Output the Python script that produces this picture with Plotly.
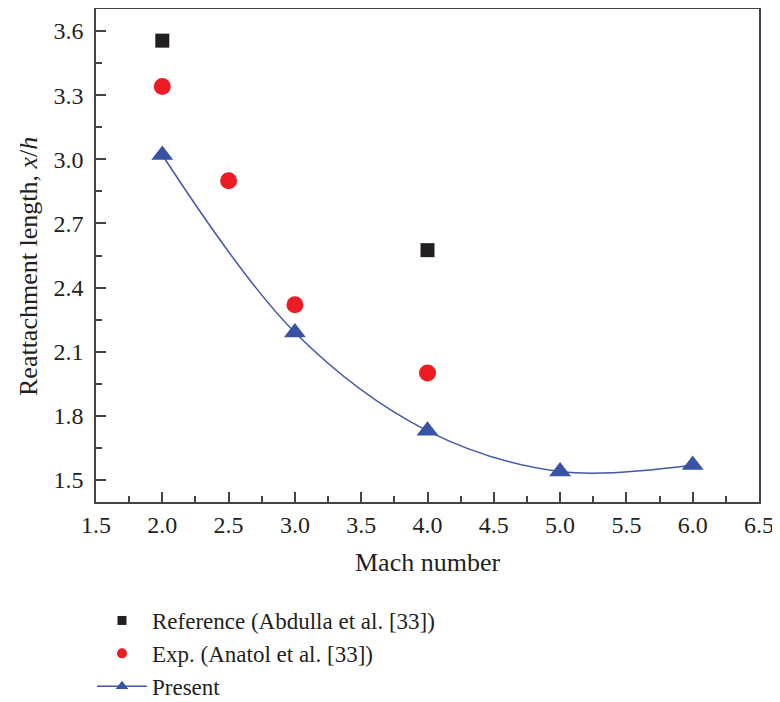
import plotly.graph_objects as go

# Data
ref_mach = [2.0, 4.0]
ref_len = [3.555, 2.575]

exp_mach = [2.0, 2.5, 3.0, 4.0]
exp_len = [3.34, 2.90, 2.32, 2.00]

present_mach = [2.0, 3.0, 4.0, 5.0, 6.0]
present_len = [3.02, 2.19, 1.73, 1.54, 1.57]

x_ticks = [1.5, 2.0, 2.5, 3.0, 3.5, 4.0, 4.5, 5.0, 5.5, 6.0, 6.5]
y_ticks = [1.5, 1.8, 2.1, 2.4, 2.7, 3.0, 3.3, 3.6]

FONT = "Liberation Serif"
AXC = "#444444"
TXT = "#231f20"
C_REF = "#231f20"
C_EXP = "#ed1c24"
C_PRE = "#3953a4"
C_LINE = "#4257a8"

# the page body adds an 8px margin, so the figure is 8px smaller each way
W, H = 772, 694
ML, MR, MT, MB = 88, 21, 1, 200
PW, PH = W - ML - MR, H - MT - MB


def px_to_paper_x(px):
    return (px - ML) / PW


def px_to_paper_y(py):
    return (H - MB - py) / PH


fig = go.Figure()
fig.add_trace(go.Scatter(
    x=ref_mach, y=ref_len, mode="markers", showlegend=False,
    marker=dict(symbol="square", size=14, color=C_REF),
))
fig.add_trace(go.Scatter(
    x=exp_mach, y=exp_len, mode="markers", showlegend=False,
    marker=dict(symbol="circle", size=17, color=C_EXP),
))
fig.add_trace(go.Scatter(
    x=present_mach, y=present_len, mode="lines+markers", showlegend=False,
    line=dict(shape="spline", smoothing=1.0, color=C_LINE, width=1.5),
    marker=dict(symbol="triangle-up", size=19, color=C_PRE),
))
# legend entries with small symbols, as in the reference
fig.add_trace(go.Scatter(
    x=[None], y=[None], mode="markers", name="Reference (Abdulla et al. [33])",
    marker=dict(symbol="square", size=9, color=C_REF),
))
fig.add_trace(go.Scatter(
    x=[None], y=[None], mode="markers", name="Exp. (Anatol et al. [33])",
    marker=dict(symbol="circle", size=10, color=C_EXP),
))
fig.add_trace(go.Scatter(
    x=[None], y=[None], mode="lines+markers", name="Present",
    line=dict(color=C_LINE, width=1.5),
    marker=dict(symbol="triangle-up", size=11, color=C_PRE),
))

fig.update_layout(
    width=W, height=H,
    paper_bgcolor="white", plot_bgcolor="white",
    margin=dict(l=ML, r=MR, t=MT, b=MB, autoexpand=False),
    font=dict(family=FONT, size=24, color=TXT),
    showlegend=True,
    legend=dict(
        xref="container", yref="container",
        x=84 / W, y=1 - 591 / H, xanchor="left", yanchor="top",
        font=dict(family=FONT, size=23, color=TXT),
        itemwidth=50, tracegroupgap=0,
        bgcolor="rgba(0,0,0,0)",
    ),
    annotations=[
        dict(text="Mach number", xref="paper", x=0.5, yref="paper", y=px_to_paper_y(554),
             xanchor="center", yanchor="middle", showarrow=False,
             font=dict(family=FONT, size=26, color=TXT)),
        dict(text="Reattachment length, <i>x</i>/<i>h</i>", xref="paper", x=px_to_paper_x(20),
             yref="paper", y=px_to_paper_y(259), textangle=-90,
             xanchor="center", yanchor="middle", showarrow=False,
             font=dict(family=FONT, size=26, color=TXT)),
    ],
)
fig.update_xaxes(
    range=[1.5, 6.5], tickvals=x_ticks, ticktext=[f"{v:.1f}" for v in x_ticks],
    ticks="inside", ticklen=10, tickwidth=1.5, tickcolor=AXC,
    minor=dict(ticks="inside", ticklen=6, tickwidth=1.5, tickcolor=AXC, dtick=0.25, tick0=1.5),
    showline=True, linecolor=AXC, linewidth=1.5, mirror=True,
    showgrid=False, zeroline=False,
    ticklabelstandoff=0,
    tickfont=dict(family=FONT, size=24),
)
fig.update_yaxes(
    range=[1.397, 3.703], tickvals=y_ticks, ticktext=[f"{v:.1f}" for v in y_ticks],
    ticks="inside", ticklen=10, tickwidth=1.5, tickcolor=AXC,
    minor=dict(ticks="inside", ticklen=6, tickwidth=1.5, tickcolor=AXC, dtick=0.15, tick0=1.5),
    showline=True, linecolor=AXC, linewidth=1.5, mirror=True,
    showgrid=False, zeroline=False,
    ticklabelstandoff=6,
    tickfont=dict(family=FONT, size=24),
)

fig.write_html("out.html")
